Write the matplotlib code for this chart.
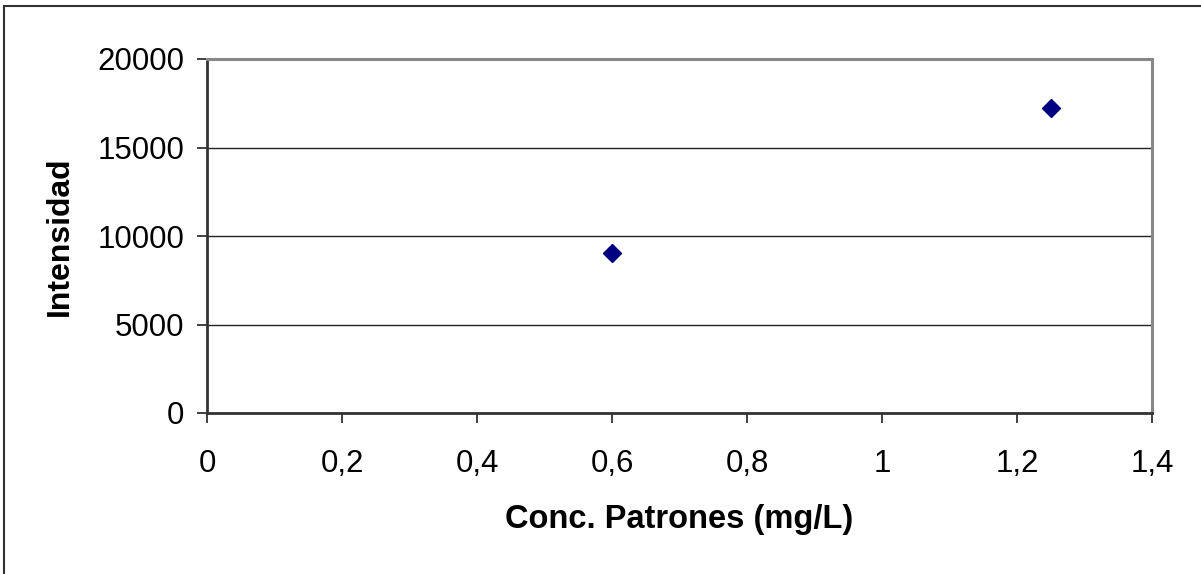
import matplotlib.pyplot as plt
from matplotlib.lines import Line2D

# datos
conc = [0.6, 1.25]
intensidad = [9020, 17210]

x_ticks = [0, 0.2, 0.4, 0.6, 0.8, 1.0, 1.2, 1.4]
x_labels = ['0', '0,2', '0,4', '0,6', '0,8', '1', '1,2', '1,4']
y_ticks = [0, 5000, 10000, 15000, 20000]
y_labels = ['0', '5000', '10000', '15000', '20000']

plt.rcParams['font.family'] = ['Liberation Sans', 'DejaVu Sans']

W, H = 1201, 574
PT = 0.72  # px -> pt a 100 dpi
fig = plt.figure(figsize=(W / 100, H / 100), dpi=100)
ax = fig.add_axes([207 / W, 1 - 413 / H, (1152 - 207) / W, (413 - 59) / H])

ax.plot(conc, intensidad, linestyle='none', marker='D', markersize=8.7,
        color='#000080', zorder=5)

ax.set_xlim(0, 1.4)
ax.set_ylim(0, 20000)
ax.set_xticks(x_ticks)
ax.set_xticklabels(x_labels)
ax.set_yticks(y_ticks)
ax.set_yticklabels(y_labels)

ax.yaxis.grid(True, color='#222222', linewidth=1.0)
ax.set_axisbelow(True)

ax.tick_params(axis='x', direction='out', length=10 * PT, width=1.3, color='#333333',
               labelsize=22.5, pad=26 * PT)
ax.tick_params(axis='y', direction='out', length=10 * PT, width=1.3, color='#333333',
               labelsize=22.5, pad=13 * PT)

for s in ['left', 'bottom']:
    ax.spines[s].set_color('#333333')
    ax.spines[s].set_linewidth(2)
for s in ['top', 'right']:
    ax.spines[s].set_color('#888888')
    ax.spines[s].set_linewidth(2.2)

ax.set_xlabel('Conc. Patrones (mg/L)', fontsize=23.5, fontweight='bold')
ax.set_ylabel('Intensidad', fontsize=23, fontweight='bold')
ax.xaxis.set_label_coords(0.5, (413 - 528) / 354)
ax.xaxis.label.set_va('baseline')
ax.yaxis.set_label_coords((68 - 207) / 945, 0.5)
ax.yaxis.label.set_va('baseline')

# marco del gráfico (solo arriba e izquierda visibles)
fig.add_artist(Line2D([3.5 / W, 3.5 / W], [0, 1 - 5.5 / H], transform=fig.transFigure,
                      color='#333333', linewidth=1.5))
fig.add_artist(Line2D([3.5 / W, 1], [1 - 5.5 / H, 1 - 5.5 / H], transform=fig.transFigure,
                      color='#333333', linewidth=1.5))

fig.savefig('out.png', dpi=100)
